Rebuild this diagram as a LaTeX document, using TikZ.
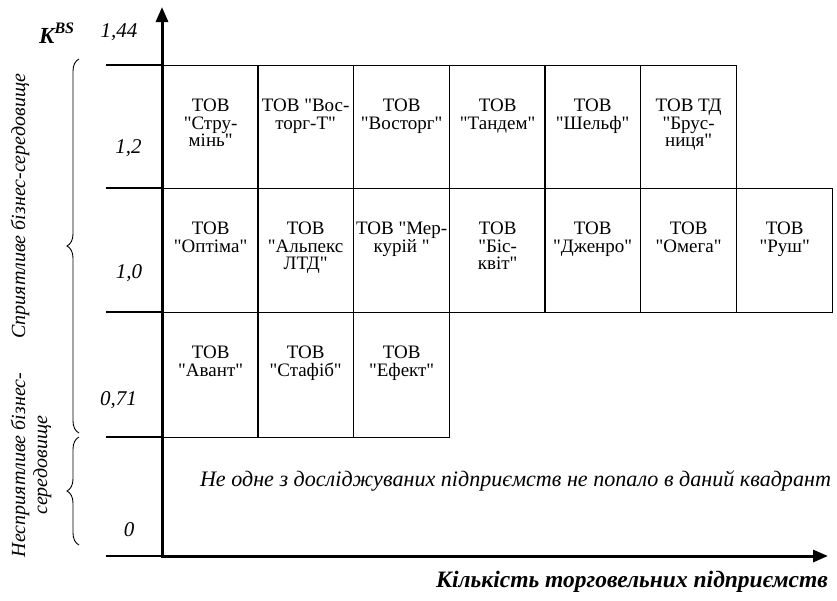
\documentclass[tikz,border=0pt]{standalone}
\usepackage{fontspec}
\setmainfont{Liberation Serif}
\newfontfamily\tnr{Liberation Serif}
\usetikzlibrary{arrows.meta,decorations.pathreplacing}
\begin{document}
\begin{tikzpicture}[x=1pt,y=-1pt,
  cellbox/.style={draw=black, line width=1.3pt, minimum width=96pt, anchor=north west, inner sep=0pt},
  celltext/.style={align=center, inner sep=0pt, anchor=north, font=\tnr\fontsize{19}{17.5}\selectfont},
  grid/.style={line width=1.3pt},
  axis/.style={line width=3pt, -{Triangle[width=12pt,length=15pt]}},
  ticklab/.style={font=\fontsize{21}{22}\selectfont\itshape, inner sep=0pt, anchor=base},
  sidelab/.style={font=\fontsize{20}{22}\selectfont\itshape, rotate=90, align=center, inner sep=0pt},
  bracestyle/.style={line width=0.9pt, decorate, decoration={brace, amplitude=12pt, aspect=0.5}}
  ]
\useasboundingbox (0,0) rectangle (837,600);

% row 1
\foreach \n/\x/\t in {11/162/{ТОВ\\"Стру-\\мінь"}, 12/257/{ТОВ "Вос-\\торг-Т"}, 13/353/{ТОВ\\"Восторг"}, 14/449/{ТОВ\\"Тандем"}, 15/544/{ТОВ\\"Шельф"}, 16/640/{ТОВ ТД\\"Брус-\\ниця"}}{
  \node[cellbox, minimum height=123pt] (c\n) at (\x,65) {};
  \node[celltext] (t\n) at ([yshift=-34pt]c\n.north) {\t};
}
% row 2
\foreach \n/\x/\t in {21/162/{ТОВ\\"Оптіма"}, 22/257/{ТОВ\\"Альпекс\\ЛТД"}, 23/353/{ТОВ "Мер-\\курій "}, 24/449/{ТОВ\\"Біс-\\квіт"}, 25/544/{ТОВ\\"Дженро"}, 26/640/{ТОВ\\"Омега"}, 27/736/{ТОВ\\"Руш"}}{
  \node[cellbox, minimum height=124pt] (c\n) at (\x,188) {};
  \node[celltext] (t\n) at ([yshift=-34pt]c\n.north) {\t};
}
% row 3
\foreach \n/\x/\t in {31/162/{ТОВ\\"Авант"}, 32/257/{ТОВ\\"Стафіб"}, 33/353/{ТОВ\\"Ефект"}}{
  \node[cellbox, minimum height=125pt] (c\n) at (\x,312) {};
  \node[celltext] (t\n) at ([yshift=-34pt]c\n.north) {\t};
}

% grid extensions left of axis
\foreach \yy/\nm in {65/a, 188/b, 312/c, 437/d, 556/e}{
  \coordinate (gl\nm) at (106,\yy);
  \coordinate (gr\nm) at (162,\yy);
  \draw[grid] (gl\nm) -- (gr\nm);
}

% axes
\coordinate (O) at (162,556);
\coordinate (ytip) at (162,7);
\coordinate (xtip) at (828,556);
\draw[axis] (O) -- (ytip);
\draw[axis] ([xshift=-1.5pt]O) -- (xtip);

% tick labels
\node[ticklab] (l144) at (119,37) {1,44};
\node[ticklab] (l12) at (128.5,153) {1,2};
\node[ticklab] (l10) at (129,278) {1,0};
\node[ticklab] (l071) at (118.5,405) {0,71};
\node[ticklab] (l0) at (129,536) {0};

\node[inner sep=0pt, anchor=base west, font=\fontsize{23}{24}\selectfont\bfseries\itshape] (kbs) at (39,43) {K\raisebox{0.43em}{\fontsize{16}{16}\selectfont BS}};

% braces
\coordinate (b1a) at (79,433);
\coordinate (b1b) at (79,59);
\coordinate (b2a) at (79,545);
\coordinate (b2b) at (79,437);
\draw[bracestyle] (b1a) -- (b1b);
\draw[bracestyle] (b2a) -- (b2b);

% side labels
\node[sidelab] (fav) at (20,206) {Сприятливе бізнес-середовище};
\node[sidelab] (unfav) at (31,465) {Несприятливе бізнес-\\середовище};

% texts
\node[inner sep=0pt, anchor=base, font=\fontsize{22.1}{24}\selectfont\itshape] (none) at (515.5,486) {Не одне з досліджуваних підприємств не попало в даний квадрант};
\node[inner sep=0pt, anchor=base, font=\fontsize{23.5}{24}\selectfont\bfseries\itshape] (xlab) at (632,587) {Кількість торговельних підприємств};
\end{tikzpicture}
\end{document}
